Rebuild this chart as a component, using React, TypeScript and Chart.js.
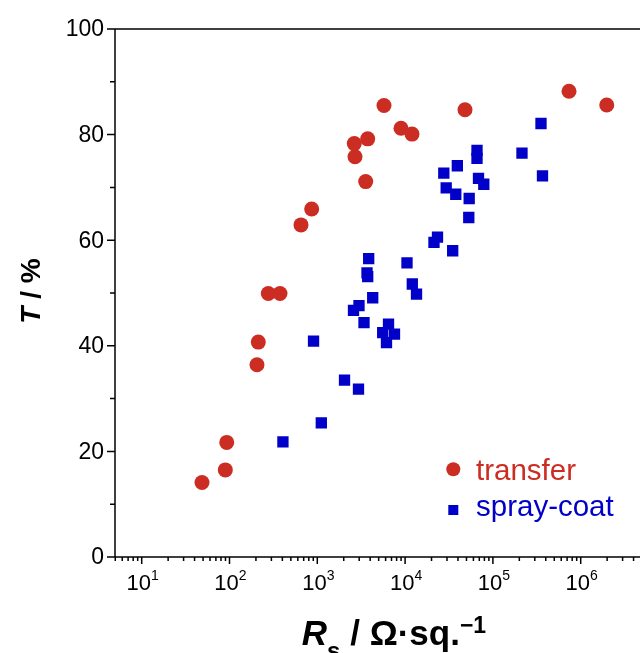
import { useEffect, useRef } from "react";
import { Chart, registerables } from "chart.js";

Chart.register(...registerables);

// Sheet resistance (Ohm/sq) and transmittance (%)
const transferR = [48.6, 89.6, 93, 205.6, 212.8, 276.7, 376, 652, 863, 2638, 2688, 3558, 3750, 5750, 8980, 11990, 48100, 736000, 1980000];
const transferT = [14.1, 16.5, 21.7, 36.4, 40.7, 49.9, 49.9, 62.9, 65.9, 78.3, 75.8, 71.1, 79.2, 85.5, 81.2, 80.1, 84.7, 88.2, 85.6];

const sprayR = [406, 906, 1111, 2042, 2946, 2584, 2985, 3404, 3848, 3683, 3750, 4276, 5557, 6473, 7572, 6138, 10510, 12080, 13490, 21330, 23390, 34830, 27590, 29380, 37770, 39360, 53700, 53120, 65920, 65920, 68550, 78740, 214400, 353000, 367100];
const sprayT = [21.8, 40.9, 25.4, 33.5, 31.8, 46.7, 47.6, 44.4, 56.5, 53.8, 53.1, 49.1, 42.5, 44.1, 42.2, 40.6, 55.7, 51.7, 49.8, 59.6, 60.6, 58.0, 72.7, 69.9, 68.7, 74.1, 67.9, 64.3, 77.0, 75.5, 71.7, 70.6, 76.5, 82.1, 72.2];

const xTickValues = [10, 100, 1000, 10000, 100000, 1000000];
const xTickExponents = ["1", "2", "3", "4", "5", "6"];
const yTickValues = [0, 20, 40, 60, 80, 100];
const yMinorValues = [10, 30, 50, 70, 90];
const minorMultipliers = [2, 3, 4, 5, 6, 7, 8, 9];

const seriesNames = ["transfer", "spray-coat"];
const RED = "#cc2d22";
const BLUE = "#0000c8";
const FONT = '"Liberation Sans", Arial, Helvetica, sans-serif';

type Seg = { t: string; font: string; dy: number };

function drawRich(ctx: CanvasRenderingContext2D, segs: Seg[], cx: number, baseline: number) {
  let total = 0;
  const widths = segs.map((s) => {
    ctx.font = s.font;
    const w = ctx.measureText(s.t).width;
    total += w;
    return w;
  });
  let x = cx - total / 2;
  ctx.textAlign = "left";
  ctx.textBaseline = "alphabetic";
  segs.forEach((s, i) => {
    ctx.font = s.font;
    ctx.fillText(s.t, x, baseline + s.dy);
    x += widths[i];
  });
}

const axesPlugin = {
  id: "customAxes",
  afterDraw(chart: any) {
    const ctx: CanvasRenderingContext2D = chart.ctx;
    const xs = chart.scales.x;
    const ys = chart.scales.y;
    const { left, right, top, bottom } = chart.chartArea;
    ctx.save();
    ctx.strokeStyle = "#000";
    ctx.fillStyle = "#000";
    ctx.lineWidth = 1.5;
    ctx.beginPath();
    ctx.moveTo(left, top);
    ctx.lineTo(left, bottom);
    ctx.moveTo(left, bottom);
    ctx.lineTo(right, bottom);
    ctx.moveTo(left, top);
    ctx.lineTo(right, top);
    ctx.stroke();

    ctx.beginPath();
    yTickValues.forEach((v) => {
      const py = ys.getPixelForValue(v);
      ctx.moveTo(left - 8, py);
      ctx.lineTo(left, py);
    });
    yMinorValues.forEach((v) => {
      const py = ys.getPixelForValue(v);
      ctx.moveTo(left - 5, py);
      ctx.lineTo(left, py);
    });
    xTickValues.forEach((v) => {
      const px = xs.getPixelForValue(v);
      ctx.moveTo(px, bottom);
      ctx.lineTo(px, bottom + 7);
    });
    for (let d = 0; d <= 6; d++) {
      minorMultipliers.forEach((m) => {
        const v = m * Math.pow(10, d);
        if (v < xs.min || v > xs.max) return;
        const px = xs.getPixelForValue(v);
        ctx.moveTo(px, bottom);
        ctx.lineTo(px, bottom + 4);
      });
    }
    ctx.stroke();

    ctx.font = `23px ${FONT}`;
    ctx.textAlign = "right";
    ctx.textBaseline = "middle";
    yTickValues.forEach((v) => {
      ctx.fillText(String(v), left - 11, ys.getPixelForValue(v) + 1);
    });

    xTickValues.forEach((v, i) => {
      const px = xs.getPixelForValue(v);
      drawRich(
        ctx,
        [
          { t: "10", font: `22px ${FONT}`, dy: 0 },
          { t: xTickExponents[i], font: `14px ${FONT}`, dy: -10 },
        ],
        px + 1,
        590
      );
    });

    drawRich(
      ctx,
      [
        { t: "R", font: `italic bold 35px ${FONT}`, dy: 0 },
        { t: "s", font: `bold 24px ${FONT}`, dy: 14 },
        { t: " / Ω·sq.", font: `bold 35px ${FONT}`, dy: 0 },
        { t: "−1", font: `bold 23px ${FONT}`, dy: -12 },
      ],
      394,
      645
    );

    ctx.save();
    ctx.translate(40, 291);
    ctx.rotate(-Math.PI / 2);
    drawRich(
      ctx,
      [
        { t: "T", font: `italic bold 28px ${FONT}`, dy: 0 },
        { t: " / %", font: `bold 28px ${FONT}`, dy: 0 },
      ],
      0,
      0
    );
    ctx.restore();

    const ds = chart.data.datasets;
    ctx.fillStyle = ds[0].backgroundColor;
    ctx.beginPath();
    ctx.arc(453.3, 469.3, 7, 0, Math.PI * 2);
    ctx.fill();
    ctx.fillStyle = ds[1].backgroundColor;
    ctx.fillRect(448.3, 505, 10, 10);
    ctx.font = `29.5px ${FONT}`;
    ctx.textAlign = "left";
    ctx.textBaseline = "alphabetic";
    ctx.fillStyle = ds[0].backgroundColor;
    ctx.fillText(ds[0].label, 476, 479.5);
    ctx.fillStyle = ds[1].backgroundColor;
    ctx.fillText(ds[1].label, 476, 516);
    ctx.restore();
  },
};

export default function App() {
  const ref = useRef<HTMLCanvasElement | null>(null);
  useEffect(() => {
    if (!ref.current) return;
    const chart = new Chart(ref.current, {
      type: "scatter",
      data: {
        datasets: [
          {
            label: seriesNames[0],
            data: transferR.map((x, i) => ({ x, y: transferT[i] })),
            pointStyle: "circle",
            pointRadius: 7.5,
            pointHoverRadius: 7.5,
            borderWidth: 0,
            backgroundColor: RED,
            borderColor: RED,
          },
          {
            label: seriesNames[1],
            data: sprayR.map((x, i) => ({ x, y: sprayT[i] })),
            pointStyle: "rect",
            pointRadius: 8,
            pointHoverRadius: 8,
            borderWidth: 0,
            backgroundColor: BLUE,
            borderColor: BLUE,
          },
        ],
      },
      options: {
        responsive: false,
        animation: false,
        devicePixelRatio: 1,
        layout: { padding: { left: 115, top: 29, right: 31.5, bottom: 96 } },
        scales: {
          x: { type: "logarithmic", min: 4.965, max: 1e7, display: false },
          y: { type: "linear", min: 0, max: 100, display: false },
        },
        plugins: { legend: { display: false }, tooltip: { enabled: false } },
      },
      plugins: [axesPlugin],
    });
    return () => chart.destroy();
  }, []);
  return (
    <div style={{ position: "fixed", left: 0, top: 0, width: 640, height: 653, overflow: "hidden", background: "#fff" }}>
      <canvas ref={ref} width={700} height={653} style={{ display: "block" }} />
    </div>
  );
}
